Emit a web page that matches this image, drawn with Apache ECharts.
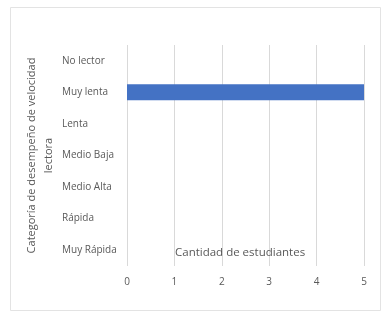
<!DOCTYPE html>
<html>
<head>
<meta charset="utf-8">
<script src="https://cdn.jsdelivr.net/npm/echarts@6/dist/echarts.min.js"></script>
<style>
  html, body { margin: 0; padding: 0; background: #fff; }
  #main { width: 384px; height: 317px; }
</style>
</head>
<body>
<div id="main"></div>
<script>
// categorías y valores
var categorias = ["No lector", "Muy lenta", "Lenta", "Medio Baja", "Medio Alta", "Rápida", "Muy Rápida"];
var estudiantes = [0, 5, 0, 0, 0, 0, 0];
var ticksX = [0, 1, 2, 3, 4, 5];

var myChart = echarts.init(document.getElementById("main"));
var fuente = "'Open Sans', sans-serif";

var option = {
  animation: false,
  backgroundColor: "#fff",
  textStyle: { fontFamily: fuente },
  // título del eje x dentro del área, como en el original
  title: {
    text: "Cantidad de estudiantes",
    left: 175,
    top: 247,
    padding: 0,
    textStyle: { color: "#595959", fontSize: 11.5, fontWeight: "normal", fontFamily: fuente },
  },
  graphic: [
    {
      type: "rect",
      silent: true,
      shape: { x: 10.5, y: 7.5, width: 370, height: 303 },
      style: { fill: "none", stroke: "#e3e3e3", lineWidth: 1 },
    },
  ],
  grid: { left: 127, right: 20, top: 45, bottom: 51 },
  xAxis: {
    type: "value",
    min: ticksX[0],
    max: ticksX[ticksX.length - 1],
    interval: 1,
    axisLine: { show: false },
    axisTick: { show: false },
    axisLabel: { color: "#595959", fontSize: 10, margin: 11, fontFamily: fuente },
    splitLine: { show: true, lineStyle: { color: "#d9d9d9", width: 1 } },
  },
  yAxis: {
    type: "category",
    data: categorias,
    inverse: true,
    name: "Categoría de desempeño de velocidad\nlectora",
    nameLocation: "middle",
    nameGap: 70,
    nameMoveOverlap: false,
    nameRotate: 90,
    nameTextStyle: { color: "#595959", fontSize: 11, fontFamily: fuente, lineHeight: 17 },
    axisLine: { show: false },
    axisTick: { show: false },
    axisLabel: { color: "#595959", fontSize: 10, align: "left", margin: 65, fontFamily: fuente },
    splitLine: { show: false },
  },
  series: [
    {
      type: "bar",
      data: estudiantes,
      barWidth: 16,
      itemStyle: { color: "#4472c4" },
    },
  ],
};
myChart.setOption(option);
</script>
</body>
</html>
